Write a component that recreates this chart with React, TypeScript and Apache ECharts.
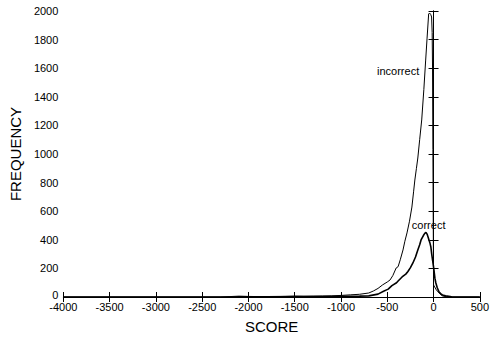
import React, { useEffect, useRef } from "react";
import * as echarts from "echarts";

const incorrectScores = [-4000, -2300, -2200, -2100, -2000, -1900, -1800, -1700, -1600, -1500, -1400, -1300, -1200, -1100, -1000, -900, -800, -700, -650, -600, -550, -500, -470, -440, -404, -383, -360, -330, -310, -287, -260, -234, -215, -202, -185, -170, -150, -128, -105, -85, -70, -53, -43, -30, -21, -15, -11, -7, -3, 0, 30, 60, 95, 150, 500];
const incorrectFreq = [0, 0, 3, 6, 4, 3, 2, 3, 4, 6, 5, 6, 7, 8, 11, 15, 19, 28, 42, 60, 85, 105, 119, 150, 203, 212, 260, 329, 390, 448, 530, 629, 740, 818, 900, 972, 1100, 1238, 1450, 1657, 1810, 1979, 1986, 1975, 1958, 1850, 1600, 1030, 500, 84, 50, 28, 8, 0, 0];

const correctScores = [-4000, -2200, -2100, -1800, -1500, -1200, -1000, -800, -700, -600, -540, -490, -450, -400, -383, -340, -300, -277, -250, -223, -195, -170, -150, -135, -110, -95, -82, -70, -56, -40, -29, -20, -11, 0, 7, 15, 25, 40, 60, 80, 96, 130, 180, 200, 500];
const correctFreq = [0, 0, 2, 2, 3, 4, 5, 6, 8, 20, 40, 55, 80, 100, 112, 140, 160, 178, 205, 238, 280, 329, 365, 399, 430, 445, 452, 440, 413, 380, 350, 300, 259, 210, 175, 130, 98, 65, 35, 22, 14, 8, 3, 0, 0];

const xTicks = { min: -4000, max: 500, interval: 500 };
const yTicks = { min: 0, max: 2000, interval: 200 };

const incorrectLabel = { text: "incorrect", at: [-383, 1580] };
const correctLabel = { text: "correct", at: [-53, 503] };

const FONT = "Liberation Sans";

export default function App() {
  const ref = useRef<HTMLDivElement>(null);
  useEffect(() => {
    if (!ref.current) return;
    const chart = echarts.init(ref.current, null, { renderer: "svg" });
    const pairs = (xs: number[], ys: number[]) => xs.map((x, i) => [x, ys[i]]);
    const tickStyle = { show: true, inside: true, length: 5, lineStyle: { color: "#000", width: 1 } };
    const axisLine = { show: true, lineStyle: { color: "#000", width: 1 } };
    const plain = (v: number) => String(v);
    const textLabel = (t: { text: string; at: number[] }) => ({
      symbol: "circle",
      symbolSize: 0,
      itemStyle: { color: "#000" },
      label: { show: true, color: "#000" },
      data: [
        {
          coord: t.at,
          itemStyle: { color: "#000" },
          label: {
            show: true,
            formatter: t.text,
            position: "inside",
            color: "#000",
            fontFamily: FONT,
            fontSize: 11,
          },
        },
      ],
    });
    chart.setOption({
      animation: false,
      backgroundColor: "#fff",
      grid: { left: 60, right: 9, top: 11, bottom: 47, containLabel: false },
      xAxis: [
        {
          type: "value",
          ...xTicks,
          position: "bottom",
          name: "SCORE",
          nameLocation: "middle",
          nameGap: 22,
          nameTextStyle: { fontFamily: FONT, fontSize: 15, color: "#000" },
          axisLine,
          axisTick: tickStyle,
          axisLabel: { fontFamily: FONT, fontSize: 11, color: "#000", margin: 4, formatter: plain },
          splitLine: { show: false },
        },
        {
          type: "value",
          ...xTicks,
          position: "top",
          axisLine,
          axisTick: tickStyle,
          axisLabel: { show: false },
          splitLine: { show: false },
        },
      ],
      yAxis: [
        {
          type: "value",
          ...yTicks,
          position: "left",
          name: "FREQUENCY",
          nameLocation: "middle",
          nameGap: 38,
          nameTextStyle: { fontFamily: FONT, fontSize: 15, color: "#000" },
          axisLine,
          axisTick: tickStyle,
          axisLabel: {
            fontFamily: FONT,
            fontSize: 11,
            color: "#000",
            margin: 5,
            formatter: (v: number) => (v === 0 ? "{z|0}" : String(v)),
            rich: { z: { fontFamily: FONT, fontSize: 11, color: "#000", padding: [0, 0, 5, 0] } },
          },
          splitLine: { show: false },
        },
        {
          type: "value",
          ...yTicks,
          position: "right",
          axisLine,
          axisTick: tickStyle,
          axisLabel: { show: false },
          splitLine: { show: false },
        },
      ],
      series: [
        {
          type: "line",
          name: "incorrect",
          data: pairs(incorrectScores, incorrectFreq),
          showSymbol: false,
          symbol: "none",
          itemStyle: { color: "#000" },
          lineStyle: { color: "#000", width: 1 },
          markPoint: textLabel(incorrectLabel),
        },
        {
          type: "line",
          name: "correct",
          data: pairs(correctScores, correctFreq),
          showSymbol: false,
          symbol: "none",
          itemStyle: { color: "#000" },
          lineStyle: { color: "#000", width: 1.6 },
          markPoint: textLabel(correctLabel),
        },
      ],
    });
    return () => chart.dispose();
  }, []);
  return (
    <div
      ref={ref}
      style={{ position: "fixed", left: 0, top: 0, width: 492, height: 344, background: "#fff" }}
    />
  );
}
